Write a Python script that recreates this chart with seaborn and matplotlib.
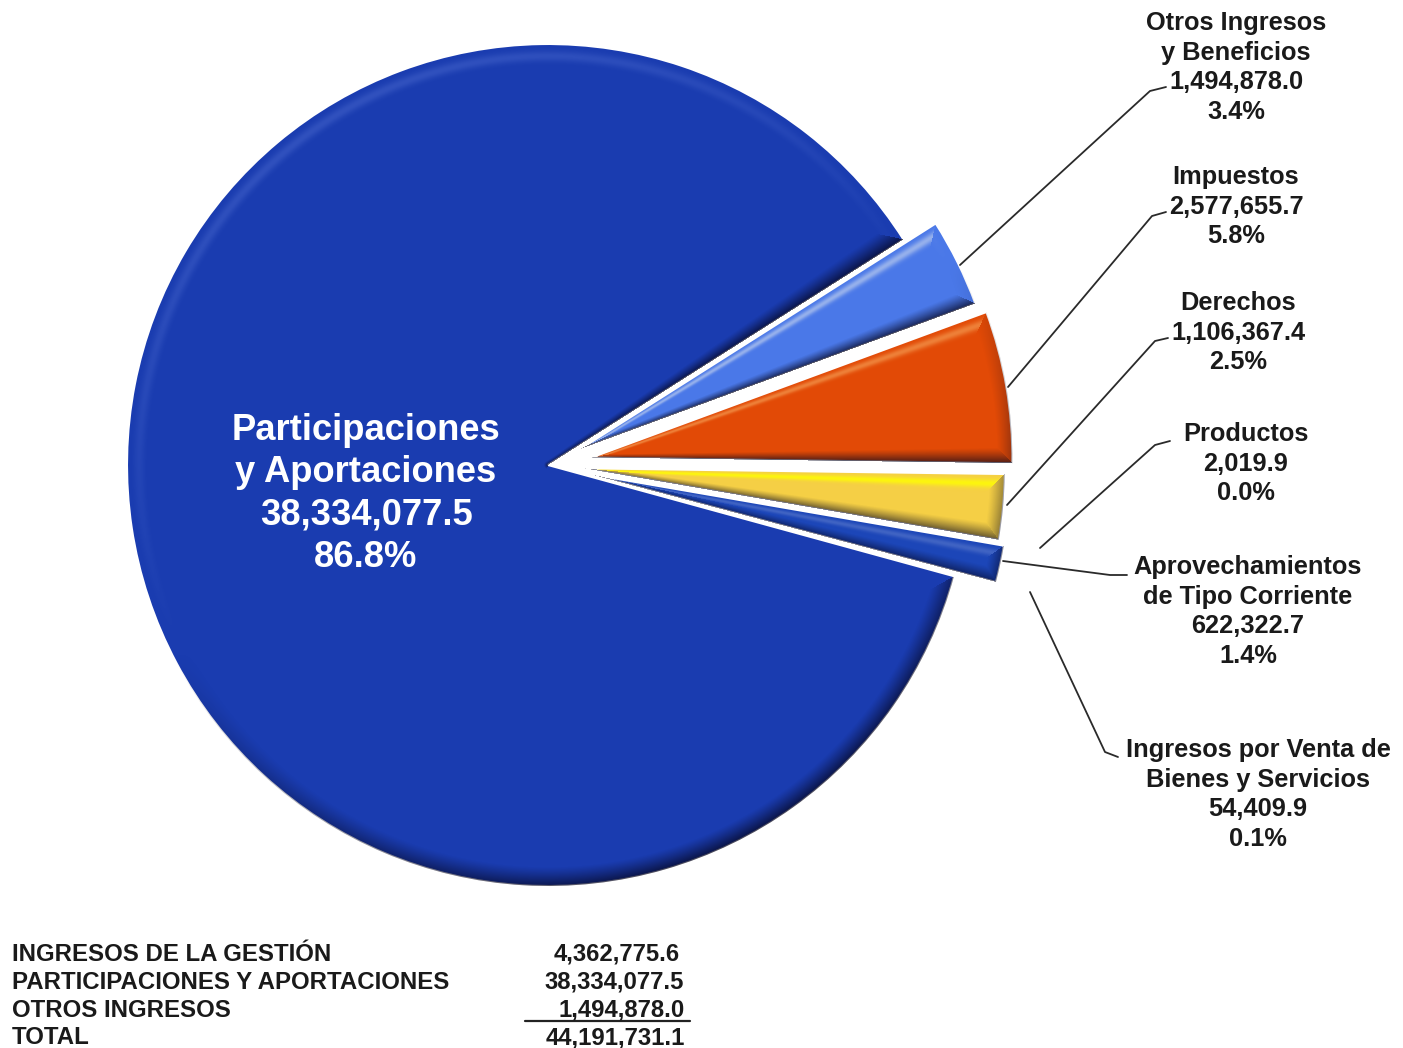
import numpy as np
import matplotlib
matplotlib.use("Agg")
import matplotlib.pyplot as plt
import seaborn as sns

# ---- data ----
categories = ["Otros Ingresos\ny Beneficios", "Impuestos", "Derechos", "Productos",
              "Aprovechamientos\nde Tipo Corriente", "Ingresos por Venta de\nBienes y Servicios",
              "Participaciones\ny Aportaciones"]
values = [1494878.0, 2577655.7, 1106367.4, 2019.9, 622322.7, 54409.9, 38334077.5]
value_labels = ["1,494,878.0", "2,577,655.7", "1,106,367.4", "2,019.9", "622,322.7", "54,409.9", "38,334,077.5"]
pct_labels = ["3.4%", "5.8%", "2.5%", "0.0%", "1.4%", "0.1%", "86.8%"]
table_names = ["INGRESOS DE LA GESTIÓN", "PARTICIPACIONES Y APORTACIONES", "OTROS INGRESOS", "TOTAL"]
table_values = ["4,362,775.6", "38,334,077.5", "1,494,878.0", "44,191,731.1"]

# ---- style ----
colors = ["#4a78e8", "#e24a06", "#f5cf45", "#ffffff", "#1c46b8", "#ffffff", "#1a3cb0"]
explode = [36, 44, 36, 0, 42, 0, 0]   # offsets in axes data units (pixels)
label_xy = [(1236, 22), (1236, 176), (1238, 302), (1246, 433), (1248, 566), (1258, 749)]
leaders = [[(960, 265), (1150, 91), (1166, 87)],
           [(1008, 387), (1152, 216), (1166, 212)],
           [(1007, 505), (1155, 341), (1168, 338)],
           [(1040, 548), (1155, 445), (1170, 441)],
           [(1003, 561), (1110, 575), (1127, 575)],
           [(1030, 592), (1105, 752), (1118, 757)]]

W, H = 1403, 1048
sns.set_theme(style="white")
plt.rcParams["font.family"] = ["Liberation Sans", "DejaVu Sans"]
plt.rcParams["font.weight"] = "bold"

fig = plt.figure(figsize=(W / 100, H / 100), dpi=100, facecolor="white")
ax = fig.add_axes([0, 0, 1, 1])

wedges, _ = ax.pie(values, colors=sns.color_palette(colors), explode=explode,
                   startangle=32.4, counterclock=False, center=(548, H - 465), radius=421,
                   frame=True, wedgeprops=dict(edgecolor="white", linewidth=1.5))


def shade(wedge, rim, hi, hi_color, radial_hi=True):
    """Bevel overlay clipped to the wedge, derived from its own geometry."""
    cx, cy = wedge.center
    r = wedge.r
    t1, t2 = np.radians(wedge.theta1), np.radians(wedge.theta2)
    if t2 - t1 < 1e-2:
        return
    bb = wedge.get_window_extent().transformed(ax.transData.inverted())
    x0, x1, y0, y1 = int(bb.x0) - 2, int(bb.x1) + 2, int(bb.y0) - 2, int(bb.y1) + 2
    xx, yy = np.meshgrid(np.arange(x0, x1) + .5, np.arange(y0, y1) + .5)
    dx, dy = xx - cx, yy - cy
    rho = np.hypot(dx, dy)
    phi = np.mod(np.arctan2(dy, dx) - t1, 2 * np.pi)
    span = t2 - t1
    d_arc = r - rho
    d1 = rho * np.sin(np.minimum(phi, np.pi / 2))
    d2 = rho * np.sin(np.minimum(np.maximum(span - phi, 0), np.pi / 2))
    L = np.array([-0.45, 0.89])
    s_arc = (dx / np.maximum(rho, 1)) * L[0] + (dy / np.maximum(rho, 1)) * L[1]
    s1 = np.sin(t1) * L[0] - np.cos(t1) * L[1]
    s2 = -np.sin(t2) * L[0] + np.cos(t2) * L[1]
    d = np.minimum(np.minimum(d_arc, d1), d2)
    s = np.where(d == d_arc, s_arc, np.where(d == d1, s1, s2))
    if not radial_hi:
        s = np.where((d != d_arc) & (s > 0), 0.0, s)
    # the bevel narrows towards the apex, as the radial edges converge
    local = rim * (0.2 + 0.8 * np.clip(rho / r, 0, 1))
    w = np.clip(1 - d / local, 0, 1)
    band = np.exp(-((d - 0.62 * local) / (0.28 * local)) ** 2)
    rgba = np.zeros(xx.shape + (4,))
    light = s > 0
    rgba[..., :3] = np.where(light[..., None], np.array(hi_color), np.array([0.02, 0.02, 0.12]))
    rgba[..., 3] = np.where(light, hi * s * band, 0.75 * (-s) * w ** 1.2)
    im = ax.imshow(rgba, extent=(x0, x1, y0, y1), origin="lower", aspect="auto",
                   zorder=wedge.get_zorder() + 0.1, interpolation="bilinear")
    im.set_clip_path(wedge)


rims = [16, 16, 16, 1, 14, 1, 20]
highs = [0.42, 0.42, 0.9, 0, 0.2, 0, 0.18]
hi_colors = [(1, 1, .95), (1, .8, .5), (1, 1, 0), (1, 1, 1), (1, 1, 1), (1, 1, 1), (.6, .7, 1)]
for k, (wd, rim, hi, hc) in enumerate(zip(wedges, rims, highs, hi_colors)):
    shade(wd, rim, hi, hc, radial_hi=k != len(wedges) - 1)

# leader lines
for path in leaders:
    xs, ys = zip(*path)
    ax.plot(xs, [H - y for y in ys], color="#2a2a2a", lw=1.3, zorder=5, solid_capstyle="round")

# side labels
for i, (cx, y0) in enumerate(label_xy):
    lines = categories[i].split("\n") + [value_labels[i], pct_labels[i]]
    for j, line in enumerate(lines):
        ax.text(cx, H - (y0 + 1 + j * 29.6), line, ha="center", va="center", fontsize=18.3,
                color="#1a1a1a", zorder=6)

# main label
main_lines = categories[-1].split("\n") + [value_labels[-1], pct_labels[-1]]
for j, line in enumerate(main_lines):
    ax.text(366, H - (430 + j * 42.5), line, ha="center", va="center", fontsize=26.2,
            color="white", zorder=6)

# summary table
table_right = [680, 684, 685, 685]
for j, (name, val) in enumerate(zip(table_names, table_values)):
    y = H - (954.5 + j * 27.8)
    ax.text(12, y, name, ha="left", va="center", fontsize=17.3, color="#1a1a1a")
    ax.text(table_right[j], y, val, ha="right", va="center", fontsize=17.2, color="#1a1a1a")
ax.plot([525, 690], [H - 1021, H - 1021], color="#222222", lw=1.6)

ax.set_xlim(0, W)
ax.set_ylim(0, H)
ax.axis("off")
fig.savefig("out.png", dpi=100, facecolor="white")
